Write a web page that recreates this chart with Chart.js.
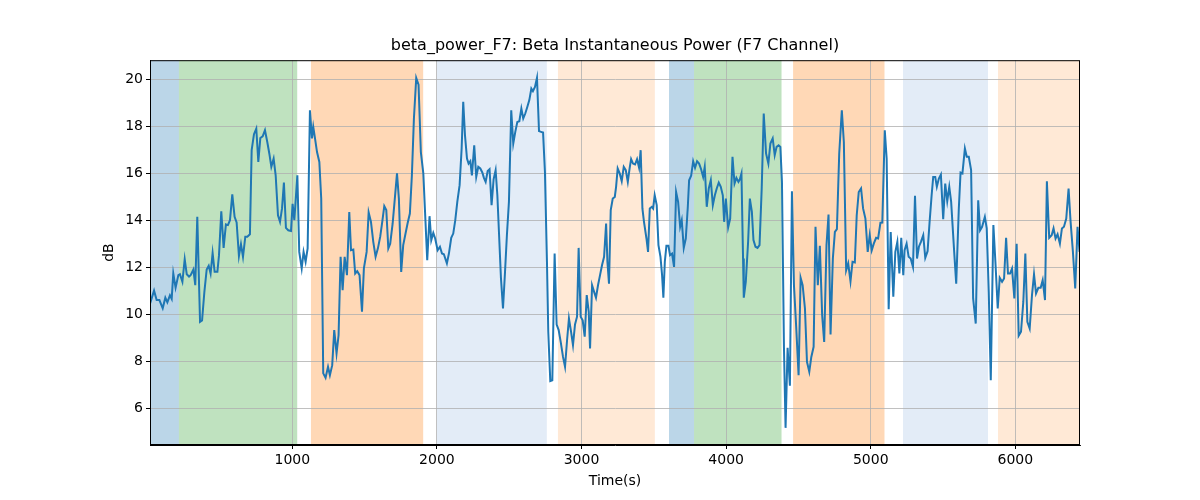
<!DOCTYPE html>
<html>
<head>
<meta charset="utf-8">
<script src="https://cdn.jsdelivr.net/npm/chart.js@4.4.0/dist/chart.umd.min.js"></script>
<style>
  html, body { margin: 0; padding: 0; background: #fff; }
  #wrap { width: 1200px; height: 500px; }
</style>
</head>
<body>
<div id="wrap"><canvas id="myChart" width="1200" height="500"></canvas></div>
<script>
// Tiempos (s) y potencia beta (dB)
const times = [16,44,62,81,104,122,136,154,166,177,193,212,223,240,256,270,286,297,316,329,343,362,376,392,408,422,435,449,463,482,493,509,525,541,555,569,585,601,615,631,645,659,675,689,707,719,735,751,765,779,795,811,827,841,855,871,885,901,915,929,942,956,972,991,1002,1014,1035,1048,1065,1078,1092,1106,1122,1136,1145,1157,1171,1187,1200,1214,1230,1247,1260,1276,1290,1306,1320,1334,1348,1362,1378,1394,1406,1422,1435,1449,1465,1482,1495,1514,1528,1544,1560,1576,1592,1608,1622,1636,1650,1664,1677,1694,1707,1724,1737,1753,1767,1783,1797,1813,1827,1841,1857,1873,1889,1906,1919,1933,1949,1961,1975,1988,2005,2021,2035,2048,2069,2083,2099,2113,2127,2141,2157,2171,2182,2194,2208,2219,2231,2242,2258,2272,2286,2300,2314,2325,2337,2351,2364,2378,2392,2406,2418,2429,2443,2457,2471,2484,2498,2514,2528,2542,2556,2570,2584,2597,2611,2625,2639,2653,2664,2678,2692,2706,2720,2734,2747,2761,2770,2784,2798,2814,2828,2842,2856,2872,2886,2900,2913,2927,2941,2955,2969,2980,2994,3008,3022,3036,3050,3059,3073,3087,3100,3114,3128,3142,3156,3170,3179,3190,3202,3216,3230,3239,3250,3264,3278,3292,3306,3320,3333,3343,3356,3370,3384,3398,3409,3421,3432,3449,3460,3472,3486,3495,3506,3520,3532,3546,3557,3566,3576,3587,3601,3612,3626,3640,3654,3668,3682,3693,3707,3721,3735,3744,3758,3772,3785,3799,3813,3827,3841,3852,3866,3880,3894,3908,3922,3935,3949,3963,3977,3986,3998,4014,4028,4044,4058,4071,4085,4095,4106,4117,4122,4136,4152,4164,4178,4189,4203,4217,4231,4246,4260,4276,4292,4306,4322,4336,4349,4363,4375,4386,4400,4411,4425,4441,4455,4469,4485,4501,4515,4529,4545,4559,4575,4589,4605,4618,4634,4648,4664,4678,4694,4708,4722,4738,4752,4766,4782,4800,4814,4830,4844,4860,4874,4890,4903,4917,4933,4947,4963,4979,4993,5007,5021,5037,5051,5067,5080,5097,5110,5124,5138,5156,5170,5184,5198,5211,5225,5234,5248,5262,5276,5292,5306,5320,5333,5347,5363,5377,5393,5407,5421,5432,5446,5457,5471,5485,5501,5515,5529,5543,5556,5577,5591,5609,5621,5634,5651,5664,5678,5694,5708,5726,5743,5756,5770,5789,5802,5816,5830,5848,5862,5878,5892,5908,5922,5936,5949,5963,5977,5993,6009,6023,6039,6055,6069,6083,6099,6115,6129,6143,6159,6175,6189,6205,6218,6234,6251,6264,6278,6292,6308,6322,6336,6352,6368,6382,6398,6414,6430,6444];
const power = [10.45,11.0,10.6,10.6,10.25,10.7,10.5,10.8,10.65,11.73,11.13,11.66,11.7,11.38,12.34,11.7,11.6,11.66,11.9,11.23,14.14,9.67,9.73,10.95,11.9,12.06,11.73,12.6,11.8,11.8,12.5,14.38,12.82,13.82,13.79,14.0,15.1,14.14,13.9,12.47,12.98,12.44,13.3,13.3,13.4,16.98,17.66,17.9,16.48,17.5,17.57,17.83,17.33,16.84,16.27,16.62,15.91,14.21,13.93,14.5,15.6,13.67,13.57,13.54,14.7,14.0,15.91,12.65,11.95,12.65,12.23,12.8,18.68,17.48,17.97,17.48,16.9,16.48,14.92,7.48,7.29,7.76,7.4,7.83,9.32,8.33,9.1,12.44,11.02,12.44,11.66,14.35,12.72,12.75,11.73,11.83,11.66,10.1,11.95,12.65,14.33,13.93,13.08,12.44,12.8,13.3,13.93,14.6,14.43,12.8,13.0,13.86,14.78,15.99,14.92,11.8,12.94,13.43,13.86,14.28,15.91,18.33,20.06,19.77,16.9,15.99,14.21,12.3,14.17,13.15,13.46,13.22,12.72,12.87,12.58,12.55,12.16,12.58,13.25,13.43,14.0,14.78,15.49,17.05,19.04,17.62,16.62,16.41,16.51,15.91,17.19,15.84,16.27,16.2,16.03,15.8,15.63,16.09,16.17,14.64,15.74,16.13,15.06,13.5,11.52,10.24,11.8,13.36,14.78,18.68,17.26,17.76,18.18,18.21,18.75,18.33,18.54,18.82,19.11,19.6,19.49,19.67,20.06,17.79,17.76,17.73,16.06,12.23,9.25,7.15,7.18,12.58,9.56,9.32,8.82,8.18,7.76,8.89,9.82,9.28,8.68,9.56,9.89,12.82,9.89,9.74,9.04,10.81,10.1,8.54,11.23,10.95,10.7,11.23,11.66,12.09,12.44,13.86,12.23,11.3,14.43,14.92,14.99,15.42,16.2,15.99,15.66,16.27,16.13,15.63,16.23,16.6,16.41,16.37,16.6,16.23,16.98,14.5,13.93,13.22,12.65,14.5,14.57,14.5,15.06,14.64,12.94,12.44,11.66,10.7,12.23,12.91,12.91,12.51,12.58,12.01,15.2,14.78,13.72,14.0,12.82,13.22,14.57,15.7,15.89,16.51,16.23,16.51,16.41,16.17,15.84,16.27,14.57,15.35,15.7,14.64,15.06,15.35,15.6,15.42,15.06,13.93,14.92,13.69,14.07,16.7,15.56,15.8,15.63,15.74,15.99,12.37,10.7,11.38,13.08,14.92,14.35,13.15,12.87,12.82,12.94,15.35,18.54,16.84,16.41,17.26,17.48,16.77,17.12,17.19,17.12,15.63,8.54,5.16,8.57,6.95,15.23,11.23,9.39,7.4,11.55,11.23,10.24,7.97,7.55,8.18,8.61,13.72,11.23,12.91,9.96,8.82,12.94,14.24,9.13,12.37,13.5,13.62,16.84,18.68,17.33,11.87,12.16,11.4,12.23,12.2,14.21,15.2,15.35,14.5,14.07,12.65,13.36,12.72,13.0,13.25,13.22,13.89,13.9,17.83,16.62,10.21,13.5,10.74,12.65,13.08,11.73,13.25,11.66,12.72,13.0,12.44,12.37,12.01,15.04,12.37,12.87,13.08,13.36,12.4,12.68,13.93,15.06,15.84,15.84,15.42,15.77,15.94,14.04,15.56,14.81,15.42,14.78,12.65,11.3,14.5,16.03,15.99,17.05,16.7,16.7,16.13,10.67,9.6,14.85,13.57,13.72,14.14,13.65,10.95,7.19,13.79,12.23,10.24,11.55,11.38,11.52,13.25,11.73,11.73,11.94,10.67,13.0,9.08,9.25,10.52,12.58,9.67,9.39,10.81,11.69,10.88,11.12,11.12,11.45,10.6,15.66,13.25,13.36,13.65,13.22,13.4,13.0,13.65,13.72,14.07,15.35,13.93,12.65,11.09,13.72,12.65];

// Intervalos sombreados (inicio, fin en s)
const spanStart = [16, 216, 1129, 2000, 2837, 3605, 3778, 4463, 5223, 5880];
const spanEnd   = [216, 1034, 1905, 2760, 3507, 3778, 4383, 5095, 5811, 6447];
const spanKind  = ['blue', 'green', 'orange', 'lightblue', 'lightorange', 'blue', 'green', 'orange', 'lightblue', 'lightorange'];

// Marcas de los ejes
const xTicks = [1000, 2000, 3000, 4000, 5000, 6000];
const yTicks = [6, 8, 10, 12, 14, 16, 18, 20];

const spanColors = {
    blue: 'rgba(31, 119, 180, 0.3)',
    green: 'rgba(44, 160, 44, 0.3)',
    orange: 'rgba(255, 127, 14, 0.3)',
    lightblue: 'rgb(227, 236, 247)',
    lightorange: 'rgba(255, 127, 14, 0.17)'
};

// Plugin: bandas verticales detras de la rejilla, titulo centrado y marco
const spansPlugin = {
    id: 'spans',
    afterLayout(chart) {
        // centrar el titulo sobre el area de trazado, como matplotlib
        const tb = chart.titleBlock;
        if (tb) {
            tb.left = chart.chartArea.left;
            tb.right = chart.chartArea.right;
            tb.width = tb.right - tb.left;
        }
    },
    beforeDraw(chart) {
        const {ctx, chartArea, scales: {x}} = chart;
        ctx.save();
        for (let i = 0; i < spanStart.length; i++) {
            const x0 = Math.max(x.getPixelForValue(spanStart[i]), chartArea.left);
            const x1 = Math.min(x.getPixelForValue(spanEnd[i]), chartArea.right);
            ctx.fillStyle = spanColors[spanKind[i]];
            ctx.fillRect(x0, chartArea.top, x1 - x0, chartArea.bottom - chartArea.top);
        }
        ctx.restore();
    },
    afterDraw(chart) {
        const {ctx, chartArea} = chart;
        ctx.save();
        ctx.strokeStyle = '#000';
        ctx.lineWidth = 1;
        ctx.strokeRect(chartArea.left + 0.5, chartArea.top + 0.5,
            chartArea.right - chartArea.left - 1, chartArea.bottom - chartArea.top - 1);
        ctx.restore();
    }
};

Chart.defaults.font.family = 'DejaVu Sans';
Chart.defaults.color = '#000';

const ctx = document.getElementById('myChart').getContext('2d');
const myChart = new Chart(ctx, {
    type: 'line',
    data: {
        datasets: [{
            label: 'beta_power_F7',
            data: times.map((t, i) => ({x: t, y: power[i]})),
            borderColor: '#1f77b4',
            borderWidth: 2,
            pointRadius: 0,
            tension: 0,
            fill: false
        }]
    },
    options: {
        responsive: false,
        animation: false,
        events: [],
        layout: { padding: { top: 36, right: 120, left: 0, bottom: 0 } },
        plugins: {
            legend: { display: false },
            tooltip: { enabled: false },
            title: {
                display: true,
                text: 'beta_power_F7: Beta Instantaneous Power (F7 Channel)',
                font: { size: 16, weight: 'normal' },
                color: '#000',
                padding: { top: 0, bottom: 5 }
            }
        },
        scales: {
            x: {
                type: 'linear',
                min: 16,
                max: 6447,
                afterBuildTicks: (scale) => { scale.ticks = xTicks.map(v => ({value: v})); },
                afterFit: (scale) => { scale.height = 55; },
                ticks: { font: { size: 14 }, padding: 3, maxRotation: 0, callback: v => String(v) },
                grid: { color: '#b0b0b0', lineWidth: 0.8, tickColor: '#000', tickLength: 4, tickWidth: 1 },
                border: { color: '#000', width: 1 },
                title: { display: true, text: 'Time(s)', font: { size: 14 }, padding: { top: 0, bottom: 10 } }
            },
            y: {
                min: 4.43,
                max: 20.81,
                afterBuildTicks: (scale) => { scale.ticks = yTicks.map(v => ({value: v})); },
                afterFit: (scale) => { scale.width = 150; },
                ticks: { font: { size: 14 }, padding: 3, callback: v => String(v) },
                grid: { color: '#b0b0b0', lineWidth: 0.8, tickColor: '#000', tickLength: 4, tickWidth: 1 },
                border: { color: '#000', width: 1 },
                title: { display: true, text: 'dB', font: { size: 14 }, padding: { top: 101, bottom: 0 } }
            }
        }
    },
    plugins: [spansPlugin]
});
</script>
</body>
</html>
